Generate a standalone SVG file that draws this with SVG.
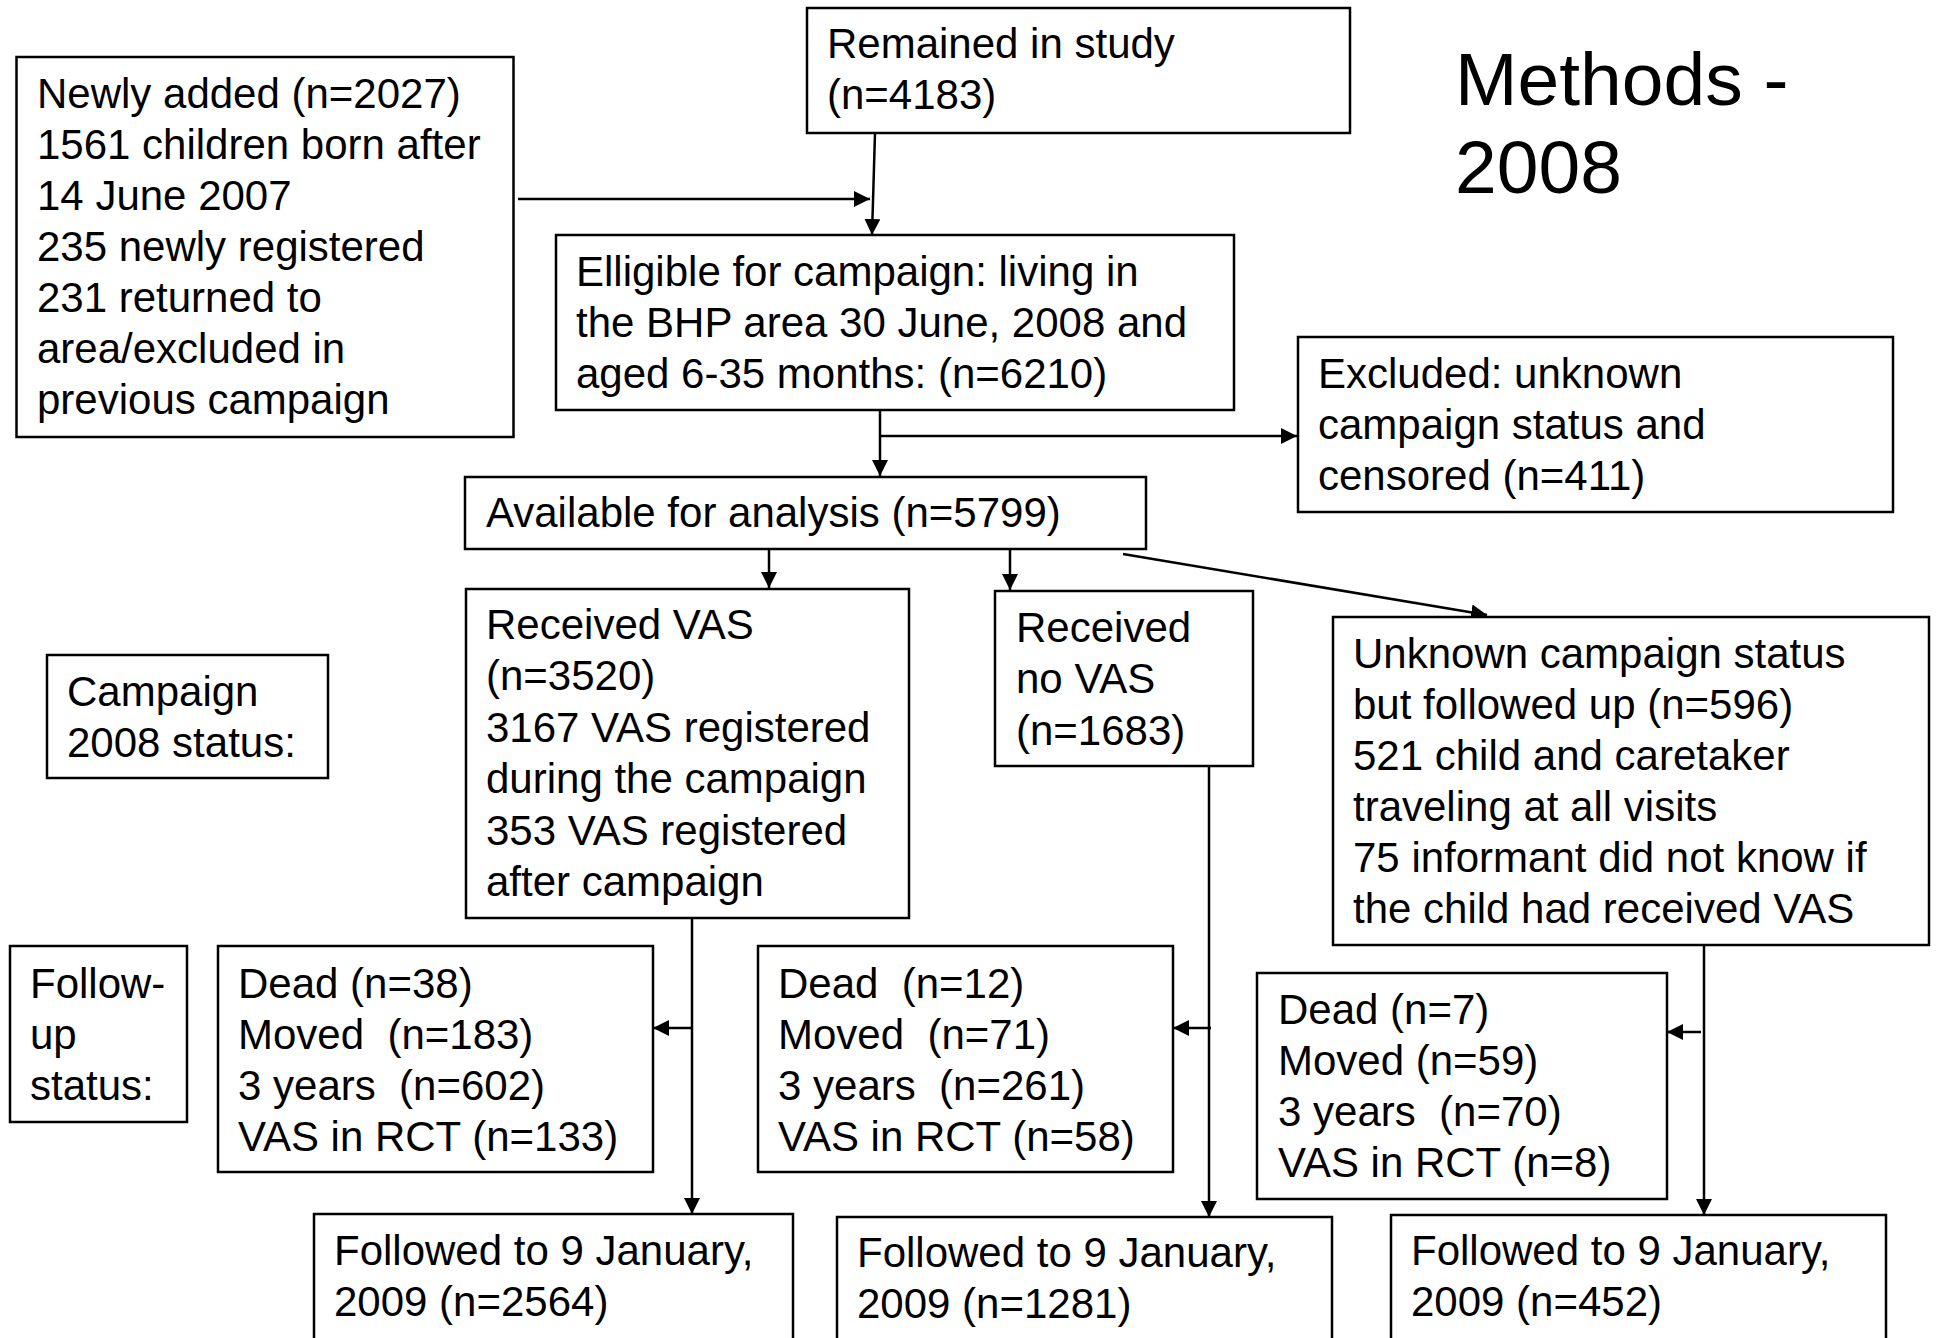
<svg xmlns="http://www.w3.org/2000/svg" width="1939" height="1338" viewBox="0 0 1939 1338">
  <style>
    .box { fill: #ffffff; stroke: #000000; stroke-width: 2.5; }
    .lbl { font-family: "Liberation Sans", Arial, sans-serif; font-size: 42px; fill: #000000; white-space: pre; }
    .title { font-family: "Liberation Sans", Arial, sans-serif; font-size: 75px; fill: #000000; }
    .edge { fill: none; stroke: #000000; stroke-width: 2.5; }
    .arr { marker-end: url(#head); }
  </style>
  <defs>
    <marker id="head" markerUnits="userSpaceOnUse" markerWidth="16" markerHeight="16" refX="16" refY="8" orient="auto">
      <path d="M0,0 L16,8 L0,16 Z" fill="#000000"/>
    </marker>
  </defs>
  <rect width="1939" height="1338" fill="#ffffff"/>

  <!-- title -->
  <g id="title">
    <text class="title" x="1455" y="105">Methods -</text>
    <text class="title" x="1455" y="193">2008</text>
  </g>

  <!-- connectors -->
  <g id="connectors">
    <line class="edge arr" x1="518" y1="199" x2="870" y2="199"/>
    <line class="edge arr" x1="875" y1="133" x2="872" y2="235"/>
    <line class="edge arr" x1="880" y1="411" x2="880" y2="476"/>
    <line class="edge arr" x1="880" y1="436" x2="1297" y2="436"/>
    <line class="edge arr" x1="769" y1="549" x2="769" y2="588"/>
    <line class="edge arr" x1="1010" y1="549" x2="1010" y2="590"/>
    <line class="edge arr" x1="1123" y1="554" x2="1487" y2="615"/>
    <line class="edge arr" x1="692" y1="914" x2="692" y2="1214"/>
    <line class="edge arr" x1="693" y1="1028" x2="653" y2="1028"/>
    <line class="edge arr" x1="1209" y1="764" x2="1209" y2="1217"/>
    <line class="edge arr" x1="1211" y1="1028" x2="1173" y2="1028"/>
    <line class="edge arr" x1="1704" y1="945" x2="1704" y2="1215"/>
    <line class="edge arr" x1="1701" y1="1032" x2="1667" y2="1032"/>
  </g>

  <g id="newly-added">
    <rect class="box" x="16.5" y="57" width="497" height="380"/>
    <text class="lbl" x="37" y="108">Newly added (n=2027)</text>
    <text class="lbl" x="37" y="159">1561 children born after</text>
    <text class="lbl" x="37" y="210">14 June 2007</text>
    <text class="lbl" x="37" y="261">235 newly registered</text>
    <text class="lbl" x="37" y="312">231 returned to</text>
    <text class="lbl" x="37" y="363">area/excluded in</text>
    <text class="lbl" x="37" y="414">previous campaign</text>
  </g>

  <g id="remained">
    <rect class="box" x="807" y="8" width="543" height="125"/>
    <text class="lbl" x="827" y="58">Remained in study</text>
    <text class="lbl" x="827" y="109">(n=4183)</text>
  </g>

  <g id="eligible">
    <rect class="box" x="556" y="235" width="678" height="175"/>
    <text class="lbl" x="576" y="286">Elligible for campaign: living in</text>
    <text class="lbl" x="576" y="337">the BHP area 30 June, 2008 and</text>
    <text class="lbl" x="576" y="388">aged 6-35 months: (n=6210)</text>
  </g>

  <g id="excluded">
    <rect class="box" x="1298" y="337" width="595" height="175"/>
    <text class="lbl" x="1318" y="388">Excluded: unknown</text>
    <text class="lbl" x="1318" y="439">campaign status and</text>
    <text class="lbl" x="1318" y="490">censored (n=411)</text>
  </g>

  <g id="available">
    <rect class="box" x="465" y="477" width="681" height="72"/>
    <text class="lbl" x="486" y="527">Available for analysis (n=5799)</text>
  </g>

  <g id="campaign-status">
    <rect class="box" x="47" y="655" width="281" height="123"/>
    <text class="lbl" x="67" y="706">Campaign</text>
    <text class="lbl" x="67" y="757">2008 status:</text>
  </g>

  <g id="received-vas">
    <rect class="box" x="466" y="589" width="443" height="329"/>
    <text class="lbl" x="486" y="639">Received VAS</text>
    <text class="lbl" x="486" y="690">(n=3520)</text>
    <text class="lbl" x="486" y="742">3167 VAS registered</text>
    <text class="lbl" x="486" y="793">during the campaign</text>
    <text class="lbl" x="486" y="845">353 VAS registered</text>
    <text class="lbl" x="486" y="896">after campaign</text>
  </g>

  <g id="no-vas">
    <rect class="box" x="995" y="591" width="258" height="175"/>
    <text class="lbl" x="1016" y="642">Received</text>
    <text class="lbl" x="1016" y="693">no VAS</text>
    <text class="lbl" x="1016" y="745">(n=1683)</text>
  </g>

  <g id="unknown-status">
    <rect class="box" x="1333" y="617" width="596" height="328"/>
    <text class="lbl" x="1353" y="668">Unknown campaign status</text>
    <text class="lbl" x="1353" y="719">but followed up (n=596)</text>
    <text class="lbl" x="1353" y="770">521 child and caretaker</text>
    <text class="lbl" x="1353" y="821">traveling at all visits</text>
    <text class="lbl" x="1353" y="872">75 informant did not know if</text>
    <text class="lbl" x="1353" y="923">the child had received VAS</text>
  </g>

  <g id="followup-status">
    <rect class="box" x="10" y="946" width="177" height="176"/>
    <text class="lbl" x="30" y="998">Follow-</text>
    <text class="lbl" x="30" y="1049">up</text>
    <text class="lbl" x="30" y="1100">status:</text>
  </g>

  <g id="outcome-vas">
    <rect class="box" x="218" y="946" width="435" height="226"/>
    <text class="lbl" x="238" y="998">Dead (n=38)</text>
    <text class="lbl" x="238" y="1049">Moved  (n=183)</text>
    <text class="lbl" x="238" y="1100">3 years  (n=602)</text>
    <text class="lbl" x="238" y="1151">VAS in RCT (n=133)</text>
  </g>

  <g id="outcome-no-vas">
    <rect class="box" x="758" y="946" width="415" height="226"/>
    <text class="lbl" x="778" y="998">Dead  (n=12)</text>
    <text class="lbl" x="778" y="1049">Moved  (n=71)</text>
    <text class="lbl" x="778" y="1100">3 years  (n=261)</text>
    <text class="lbl" x="778" y="1151">VAS in RCT (n=58)</text>
  </g>

  <g id="outcome-unknown">
    <rect class="box" x="1257" y="973" width="410" height="226"/>
    <text class="lbl" x="1278" y="1024">Dead (n=7)</text>
    <text class="lbl" x="1278" y="1075">Moved (n=59)</text>
    <text class="lbl" x="1278" y="1126">3 years  (n=70)</text>
    <text class="lbl" x="1278" y="1177">VAS in RCT (n=8)</text>
  </g>

  <g id="followed-vas">
    <rect class="box" x="314" y="1214" width="479" height="140"/>
    <text class="lbl" x="334" y="1265">Followed to 9 January,</text>
    <text class="lbl" x="334" y="1316">2009 (n=2564)</text>
  </g>

  <g id="followed-no-vas">
    <rect class="box" x="837" y="1217" width="495" height="140"/>
    <text class="lbl" x="857" y="1267">Followed to 9 January,</text>
    <text class="lbl" x="857" y="1318">2009 (n=1281)</text>
  </g>

  <g id="followed-unknown">
    <rect class="box" x="1391" y="1215" width="495" height="140"/>
    <text class="lbl" x="1411" y="1265">Followed to 9 January,</text>
    <text class="lbl" x="1411" y="1316">2009 (n=452)</text>
  </g>
</svg>
